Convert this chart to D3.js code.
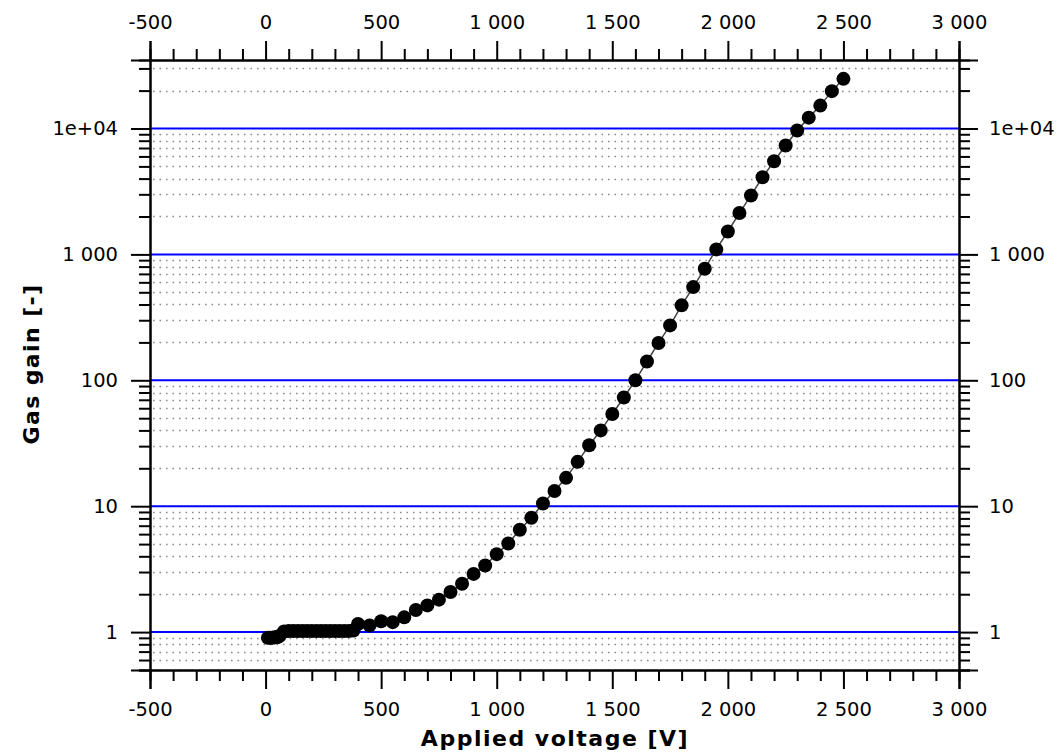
<!DOCTYPE html>
<html>
<head>
<meta charset="utf-8">
<script src="https://cdn.jsdelivr.net/npm/d3@7"></script>
<style>
  body { margin: 0; background: #fff; }
  svg { display: block; }
  text { font-family: "DejaVu Sans", Verdana, sans-serif; fill: #000; }
</style>
</head>
<body>
<div id="chart"></div>
<script>
// measured points: applied voltage [V] and gas gain [-]
var voltage = [10, 20, 30, 40, 50, 60, 80, 100, 120, 140, 160, 180, 200, 220, 240, 260, 280, 300, 320, 340, 360, 380,
  400, 450, 500, 550, 600, 650, 700, 750, 800, 850, 900, 950, 1000, 1050, 1100, 1150, 1200, 1250, 1300, 1350, 1400,
  1450, 1500, 1550, 1600, 1650, 1700, 1750, 1800, 1850, 1900, 1950, 2000, 2050, 2100, 2150, 2200, 2250, 2300, 2350,
  2400, 2450, 2500];
var gain = [0.9, 0.9, 0.9, 0.91, 0.91, 0.93, 1.01, 1.02, 1.02, 1.02, 1.02, 1.02, 1.02, 1.02, 1.02, 1.02, 1.02, 1.02, 1.02, 1.02, 1.02, 1.03,
  1.16, 1.13, 1.22, 1.2, 1.31, 1.5, 1.63, 1.81, 2.08, 2.42, 2.9, 3.38, 4.16, 5.06, 6.5, 8.1, 10.5, 13.2, 16.8, 22.5, 30.5,
  40, 54, 73, 100, 141, 198, 273, 394, 550, 770, 1096, 1520, 2130, 2940, 4100, 5500, 7330, 9640, 12200,
  15200, 19800, 24800];

var xMajor = [-500, 0, 500, 1000, 1500, 2000, 2500, 3000];
var yMajor = [1, 10, 100, 1000, 10000];
var yLabels = ["1", "10", "100", "1 000", "1e+04"];
var xTitle = "Applied voltage [V]";
var yTitle = "Gas gain [-]";

var width = 1059, height = 754;
var margin = {top: 60, right: 100, bottom: 84, left: 150};
var plotW = width - margin.left - margin.right,
    plotH = height - margin.top - margin.bottom;

var locale = d3.formatLocale({decimal: ".", thousands: " ", grouping: [3], currency: ["", ""], minus: "-"});
var fmt = locale.format(",");

var x = d3.scaleLinear().domain([-500, 3000]).range([0, plotW]);
var y = d3.scaleLog().domain([0.5, 35000]).range([plotH, 0]);

var xMinor = d3.range(-500, 3001, 100).filter(function(v) { return v % 500 !== 0; });
var yMinor = [];
[0.1, 1, 10, 100, 1000, 10000].forEach(function(d) {
  for (var k = 2; k <= 9; k++) {
    var v = d * k;
    if (v >= 0.5 && v <= 35000) yMinor.push(v);
  }
});

var svg = d3.select("#chart").append("svg")
    .attr("width", width).attr("height", height);
var g = svg.append("g").attr("transform", "translate(" + margin.left + "," + margin.top + ")");

// minor dotted grid
g.append("g").selectAll("line").data(yMinor).enter().append("line")
    .attr("x1", 3).attr("x2", plotW)
    .attr("y1", function(d) { return Math.round(y(d)) + 0.5; })
    .attr("y2", function(d) { return Math.round(y(d)) + 0.5; })
    .attr("stroke", "#8c8c8c").attr("stroke-width", 1.6)
    .attr("stroke-dasharray", "1.6,4.9");

// major blue grid
g.append("g").selectAll("line").data(yMajor).enter().append("line")
    .attr("x1", 0).attr("x2", plotW)
    .attr("y1", function(d) { return y(d); })
    .attr("y2", function(d) { return y(d); })
    .attr("stroke", "#0000ff").attr("stroke-width", 2);

// axes, major ticks long, minor ticks short
var drawAxis = function(axisFn, scale, major, minor, transform, labels, pad) {
  var ga = g.append("g").attr("transform", transform);
  ga.call(axisFn(scale).tickValues(minor).tickSize(11).tickFormat(""));
  var gm = g.append("g").attr("transform", transform);
  gm.call(axisFn(scale).tickValues(major).tickSize(19).tickPadding(pad)
    .tickFormat(function(d, i) { return labels ? labels[i] : fmt(d); }));
  [ga, gm].forEach(function(a) {
    a.selectAll(".domain").attr("stroke", "#000").attr("stroke-width", 2);
    a.selectAll(".tick line").attr("stroke", "#000").attr("stroke-width", 2);
    a.selectAll("text").style("font-size", "19.5px").attr("font-family", null).attr("fill", "#111");
  });
  return gm;
};

drawAxis(d3.axisBottom, x, xMajor, xMinor, "translate(0," + plotH + ")", null, 13);
drawAxis(d3.axisTop, x, xMajor, xMinor, "translate(0,0)", null, 12);
drawAxis(d3.axisLeft, y, yMajor, yMinor, "translate(0,0)", yLabels, 13);
drawAxis(d3.axisRight, y, yMajor, yMinor, "translate(" + plotW + ",0)", yLabels, 11);

// line + markers
var line = d3.line()
    .x(function(d, i) { return x(voltage[i]); })
    .y(function(d) { return y(d); });

g.append("path").datum(gain)
    .attr("d", line)
    .attr("fill", "none").attr("stroke", "#444").attr("stroke-width", 1.5);

g.append("g").selectAll("circle").data(gain).enter().append("circle")
    .attr("cx", function(d, i) { return x(voltage[i]); })
    .attr("cy", function(d) { return y(d); })
    .attr("r", 7)
    .attr("fill", "#000");

// titles
svg.append("text")
    .attr("x", 555).attr("y", 746)
    .attr("text-anchor", "middle")
    .style("font-size", "22px").style("font-weight", "bold")
    .style("letter-spacing", "1.5px")
    .text(xTitle);

svg.append("text")
    .attr("transform", "translate(39,364) rotate(-90)")
    .attr("text-anchor", "middle")
    .style("font-size", "22px").style("font-weight", "bold")
    .style("letter-spacing", "1.4px")
    .text(yTitle);
</script>
</body>
</html>
